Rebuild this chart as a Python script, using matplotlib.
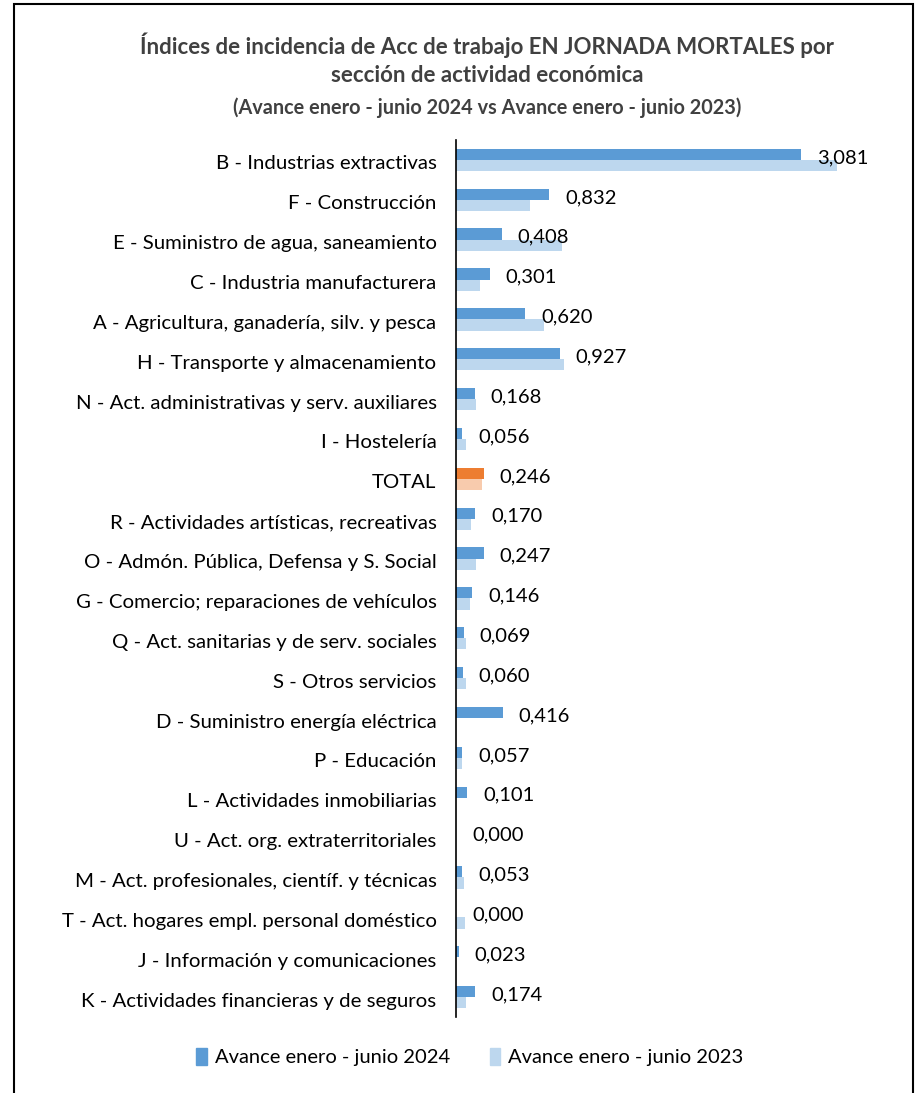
import matplotlib.pyplot as plt
import matplotlib.transforms as mtransforms
from matplotlib.patches import Patch, Rectangle

plt.rcParams['font.family'] = ['Lato', 'DejaVu Sans']

categorias = [
    "B - Industrias extractivas",
    "F - Construcción",
    "E - Suministro de agua, saneamiento",
    "C - Industria manufacturera",
    "A - Agricultura, ganadería, silv. y pesca",
    "H - Transporte y almacenamiento",
    "N - Act. administrativas y serv. auxiliares",
    "I - Hostelería",
    "TOTAL",
    "R - Actividades artísticas, recreativas",
    "O - Admón. Pública, Defensa y S. Social",
    "G - Comercio; reparaciones de vehículos",
    "Q - Act. sanitarias y de serv. sociales",
    "S - Otros servicios",
    "D - Suministro energía eléctrica",
    "P - Educación",
    "L - Actividades inmobiliarias",
    "U - Act. org. extraterritoriales",
    "M - Act. profesionales, científ. y técnicas",
    "T - Act. hogares empl. personal doméstico",
    "J - Información y comunicaciones",
    "K - Actividades financieras y de seguros",
]

# valores 2024 (etiquetas del grafico)
v2024 = [3.081, 0.832, 0.408, 0.301, 0.620, 0.927, 0.168, 0.056, 0.246,
         0.170, 0.247, 0.146, 0.069, 0.060, 0.416, 0.057, 0.101, 0.000,
         0.053, 0.000, 0.023, 0.174]
# valores 2023 (estimados a partir de la longitud de las barras)
v2023 = [3.40, 0.66, 0.95, 0.21, 0.79, 0.96, 0.175, 0.092, 0.23,
         0.134, 0.175, 0.122, 0.092, 0.090, 0.0, 0.05, 0.0, 0.0,
         0.069, 0.080, 0.0, 0.092]

c24 = '#5B9BD5'
c23 = '#BDD7EE'
c24_tot = '#ED7D31'
c23_tot = '#F8CBAD'

W, H = 916, 1093
fig = plt.figure(figsize=(W/100, H/100), dpi=100)
ax = fig.add_axes([456/W, 1-1017/H, 448/W, 877/H])

y = list(range(len(categorias)))
col24 = [c24_tot if c == "TOTAL" else c24 for c in categorias]
col23 = [c23_tot if c == "TOTAL" else c23 for c in categorias]
h = 0.28
ax.barh([i - 0.14 for i in y], v2024, height=h, color=col24)
ax.barh([i + 0.14 for i in y], v2023, height=h, color=col23)

for i, v in enumerate(v2024):
    ax.annotate(f"{v:.3f}".replace('.', ','), (v, i - 0.06),
                xytext=(11.5, 0), textcoords='offset points',
                va='center', ha='left', fontsize=14.5, color='#000000')

ax.set_xlim(0, 4)
ax.set_ylim(len(categorias) - 0.5, -0.5)
ax.set_xticks([])
ax.set_yticks(y)
ax.set_yticklabels(categorias, fontsize=14.7, color='#000000', va='center')
ax.tick_params(axis='y', length=0, pad=14)
# bajar un poco las etiquetas de categoria
off = mtransforms.ScaledTranslation(0, -4/100, fig.dpi_scale_trans)
for lbl in ax.get_yticklabels():
    lbl.set_transform(lbl.get_transform() + off)
for s in ['top', 'right', 'bottom']:
    ax.spines[s].set_visible(False)
ax.spines['left'].set_color('#000000')
ax.spines['left'].set_linewidth(1.2)

fig.text(487/W, 1-45/H, "Índices de incidencia de Acc de trabajo EN JORNADA MORTALES por",
         ha='center', va='center', fontsize=16, fontweight='bold', color='#404040')
fig.text(487/W, 1-76/H, "sección de actividad económica",
         ha='center', va='center', fontsize=16, fontweight='bold', color='#404040')
fig.text(487/W, 1-108/H, "(Avance enero - junio 2024 vs Avance enero - junio 2023)",
         ha='center', va='center', fontsize=14.3, fontweight='bold', color='#404040')

handles = [Patch(color=c24, label="Avance enero - junio 2024"),
           Patch(color=c23, label="Avance enero - junio 2023")]
fig.legend(handles=handles, loc='center', bbox_to_anchor=(470/W, 1-1057/H),
           ncol=2, frameon=False, fontsize=14.5, handlelength=0.5,
           handleheight=0.9, handletextpad=0.4, columnspacing=2.0)

# marco del grafico
fig.patches.append(Rectangle((14/W, -0.01), 899/W, 1 - 4/H + 0.01,
                             transform=fig.transFigure, fill=False,
                             edgecolor='#000000', linewidth=1.5))

fig.savefig('out.png', dpi=100)
